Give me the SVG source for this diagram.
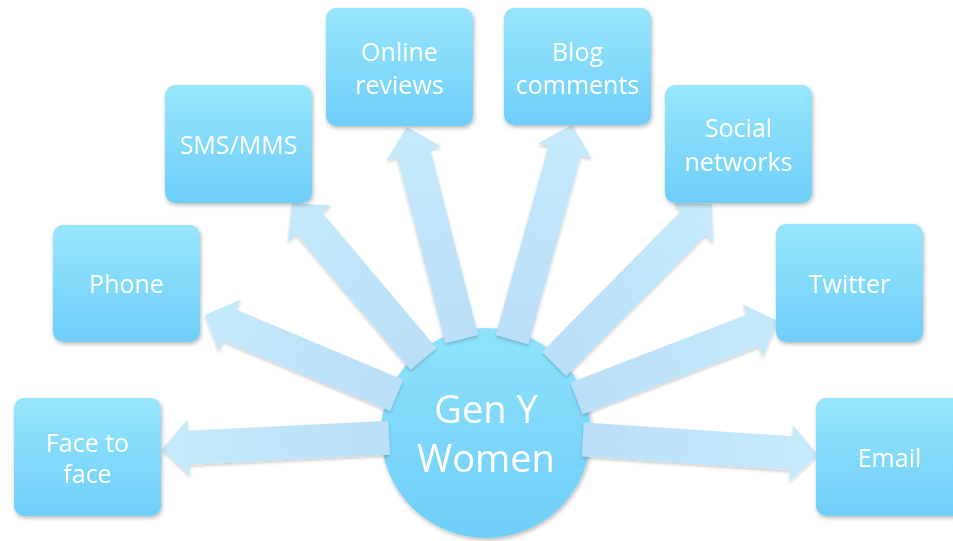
<svg xmlns="http://www.w3.org/2000/svg" width="953" height="541" viewBox="0 0 953 541">
<defs>
  <linearGradient id="boxG" x1="0" y1="0" x2="0" y2="1">
    <stop offset="0" stop-color="#97e6fc"/>
    <stop offset="1" stop-color="#6fcef9"/>
  </linearGradient>
  <linearGradient id="circG" x1="0" y1="0" x2="0" y2="1">
    <stop offset="0" stop-color="#8fe3fb"/>
    <stop offset="1" stop-color="#6ecdf8"/>
  </linearGradient>
  <linearGradient id="arrG" gradientUnits="userSpaceOnUse" x1="97" y1="0" x2="320" y2="0">
    <stop offset="0" stop-color="#bbdff8"/>
    <stop offset="1" stop-color="#c4eafb"/>
  </linearGradient>
  <filter id="sh" x="-20%" y="-20%" width="140%" height="140%">
    <feDropShadow dx="1" dy="2" stdDeviation="2" flood-color="#000" flood-opacity="0.28"/>
  </filter>
  <filter id="ash" x="-20%" y="-20%" width="140%" height="140%">
    <feDropShadow dx="0" dy="2" stdDeviation="1.5" flood-color="#000" flood-opacity="0.2"/>
  </filter>
</defs>
<style>
  .box { fill: url(#boxG); filter: url(#sh); }
  .lbl { font-family: "Open Sans", "Liberation Sans", sans-serif; font-size: 25px; fill: #ffffff; text-anchor: middle; }
  .big { font-family: "Open Sans", "Liberation Sans", sans-serif; font-size: 38px; fill: #ffffff; text-anchor: middle; }
  .arr { fill: url(#arrG); }
</style>
<rect width="953" height="541" fill="#ffffff"/>

<g id="center">
  <circle cx="486" cy="433" r="105" fill="url(#circG)" filter="url(#sh)"/>
</g>

<g id="connectors" filter="url(#ash)">
  <polygon class="arr" transform="translate(486 433) rotate(177.17)" points="97,-17 297.4,-17 297.4,-28 324.4,0 297.4,28 297.4,17 97,17"/>
  <polygon class="arr" transform="translate(486 433) rotate(202.78)" points="97,-17 277.8,-17 277.8,-28 304.8,0 277.8,28 277.8,17 97,17"/>
  <polygon class="arr" transform="translate(486 433) rotate(229.86)" points="97,-17 273.9,-17 273.9,-28 300.9,0 273.9,28 273.9,17 97,17"/>
  <polygon class="arr" transform="translate(486 433) rotate(255.52)" points="97,-17 289,-17 289,-28 316,0 289,28 289,17 97,17"/>
  <polygon class="arr" transform="translate(486 433) rotate(-74.40)" points="97,-17 292.8,-17 292.8,-28 319.8,0 292.8,28 292.8,17 97,17"/>
  <polygon class="arr" transform="translate(486 433) rotate(-45.38)" points="97,-17 294.7,-17 294.7,-28 321.7,0 294.7,28 294.7,17 97,17"/>
  <polygon class="arr" transform="translate(486 433) rotate(-20.99)" points="97,-17 285.7,-17 285.7,-28 312.7,0 285.7,28 285.7,17 97,17"/>
  <polygon class="arr" transform="translate(486 433) rotate(3.79)" points="97,-17 305.7,-17 305.7,-28 332.7,0 305.7,28 305.7,17 97,17"/>
</g>

<g id="center-label">
  <text class="big" x="486" y="423">Gen Y</text>
  <text class="big" x="486" y="472">Women</text>
</g>

<g id="face">
  <rect class="box" x="14" y="398" width="147" height="118" rx="10"/>
  <text class="lbl" x="87.5" y="452">Face to</text>
  <text class="lbl" x="87.5" y="483">face</text>
</g>
<g id="phone">
  <rect class="box" x="53" y="225" width="147" height="117" rx="10"/>
  <text class="lbl" x="126.5" y="293">Phone</text>
</g>
<g id="sms">
  <rect class="box" x="165" y="85" width="147" height="118" rx="10"/>
  <text class="lbl" x="238.5" y="154">SMS/MMS</text>
</g>
<g id="online">
  <rect class="box" x="326" y="8" width="147" height="118" rx="10"/>
  <text class="lbl" x="399.5" y="61">Online</text>
  <text class="lbl" x="399.5" y="94">reviews</text>
</g>
<g id="blog">
  <rect class="box" x="504" y="8" width="147" height="117" rx="10"/>
  <text class="lbl" x="577.5" y="61">Blog</text>
  <text class="lbl" x="577.5" y="94">comments</text>
</g>
<g id="social">
  <rect class="box" x="665" y="85" width="147" height="118" rx="10"/>
  <text class="lbl" x="738.5" y="137">Social</text>
  <text class="lbl" x="738.5" y="171">networks</text>
</g>
<g id="twitter">
  <rect class="box" x="776" y="224" width="147" height="118" rx="10"/>
  <text class="lbl" x="849.5" y="293">Twitter</text>
</g>
<g id="email">
  <rect class="box" x="816" y="398" width="147" height="118" rx="10"/>
  <text class="lbl" x="889.5" y="467">Email</text>
</g>
</svg>
